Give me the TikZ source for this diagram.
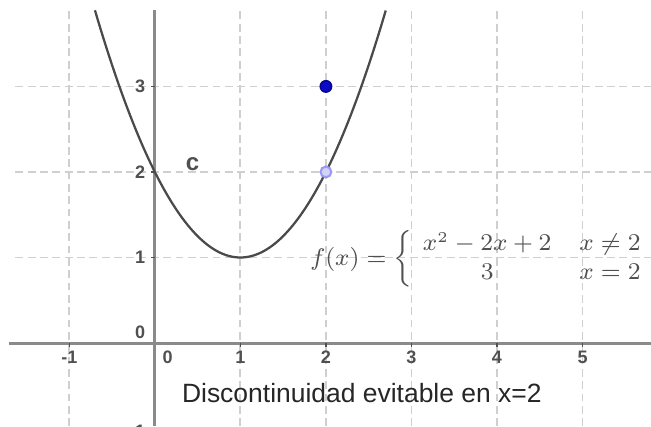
\documentclass[tikz,border=0pt]{standalone}
\usepackage{amsmath,amssymb}
\usepackage{fontspec}
\newfontfamily\arialfont{Liberation Sans}
\usepackage{tikz}
\usetikzlibrary{positioning,calc}
\usepackage{xcolor}
\definecolor{gridgray}{HTML}{CFCFCF}
\definecolor{axisgray}{HTML}{8A8A8A}
\definecolor{curvegray}{HTML}{4A4A4A}
\definecolor{labelgray}{HTML}{505050}
\definecolor{puntoazul}{HTML}{0A0AC8}
\definecolor{huecoazul}{HTML}{9A9AF5}

\begin{document}
\begin{tikzpicture}[x=1cm,y=1cm,
    tick/.style={font=\arialfont\fontsize{6}{7}\selectfont\bfseries,color=labelgray,inner sep=1pt}]
        \useasboundingbox (-1.81,-0.97) rectangle (5.80,4.01);
        \clip (-1.81,-0.97) rectangle (5.80,4.01);
        % Cuadricula
        \foreach \x in {-1,...,5}{
          \draw[gridgray,line width=0.6pt,dash pattern=on 2.6pt off 1.5pt](\x,-0.97)--(\x,3.89);}
        \foreach \y in {1,2,3}{
          \draw[gridgray,line width=0.6pt,dash pattern=on 2.6pt off 1.5pt](-1.63,\y)--(5.80,\y);}
        % Ejes
        \draw[axisgray,line width=1pt](-1.71,0)--(5.80,0);
        \draw[axisgray,line width=1pt](0,3.89)--(0,-0.97);
        \foreach \x in {-1,1,2,3,4,5}{
          \draw[labelgray,line width=0.5pt](\x,0)--(\x,-0.05);
          \node[tick] (ex\x) at (\x,-0.17) {\x};}
        \node[tick] (ex0) at (0.15,-0.17) {0};
        \foreach \y in {1,2,3}{
          \draw[labelgray,line width=0.5pt](0,\y)--(-0.05,\y);
          \node[tick,anchor=east] (ey\y) at (-0.07,\y) {\y};}
        \node[tick,anchor=east] (ey0) at (-0.07,0.12) {0};
        \node[tick,anchor=east] (eym1) at (-0.07,-1.03) {-1};
        % Parabola
        \draw[curvegray,line width=0.75pt,domain=-0.7:2.7,samples=120,smooth]
          plot (\x,{(\x)^2-2*(\x)+2});
        \node[font=\arialfont\fontsize{8}{9}\selectfont\bfseries,color=labelgray] (c) at (0.44,2.09) {c};
        % Puntos en x=2
        \fill[huecoazul!45,draw=huecoazul,line width=0.7pt](2,2)circle(1.8pt);
        \fill[puntoazul,draw=puntoazul!70!black,line width=0.5pt](2,3)circle(1.9pt);
        % Funcion a trozos
        \node[color=labelgray,font=\fontsize{7.85}{9.5}\selectfont,inner sep=0pt] (fx) at (3.77,0.98)
          {$f(x)=\left\{\begin{array}{@{\hspace{3.5pt}}c@{\hspace{9.3pt}}c@{}} x^2-2x+2 & x\neq 2\\ 3 & x=2\end{array}\right.$};
        % Titulo
        \node[font=\arialfont\fontsize{8.8}{10}\selectfont,color=black!85,anchor=base] (titulo) at (2.42,-0.69)
          {Discontinuidad evitable en x=2};
\end{tikzpicture}
\end{document}
